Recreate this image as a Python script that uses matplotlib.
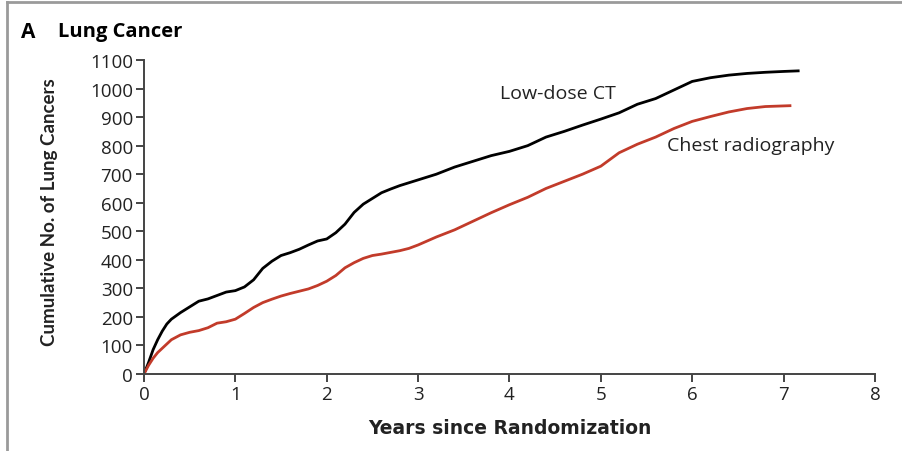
import matplotlib
matplotlib.use("Agg")
import matplotlib.pyplot as plt
from matplotlib.lines import Line2D

# Cumulative lung cancers by years since randomization
ct_years = [0, 0.05, 0.1, 0.15, 0.2, 0.25, 0.3, 0.4, 0.5, 0.6, 0.7, 0.8, 0.9, 1.0,
            1.1, 1.2, 1.3, 1.4, 1.5, 1.6, 1.7, 1.8, 1.9, 2.0, 2.1, 2.2, 2.3, 2.4,
            2.5, 2.6, 2.7, 2.8, 2.9, 3.0, 3.2, 3.4, 3.6, 3.8, 4.0, 4.2, 4.4, 4.6,
            4.8, 5.0, 5.2, 5.4, 5.6, 5.8, 6.0, 6.2, 6.4, 6.6, 6.8, 7.0, 7.16]
ct_counts = [0, 40, 85, 120, 150, 175, 192, 215, 235, 255, 263, 275, 287, 292,
             305, 330, 370, 395, 415, 425, 437, 452, 466, 473, 495, 525, 566, 595,
             615, 635, 648, 660, 670, 680, 700, 725, 745, 765, 780, 800, 830, 850,
             872, 893, 915, 945, 965, 995, 1025, 1038, 1047, 1053, 1057, 1060, 1062]

xr_years = [0, 0.05, 0.1, 0.15, 0.2, 0.3, 0.4, 0.5, 0.6, 0.7, 0.8, 0.9, 1.0,
            1.1, 1.2, 1.3, 1.4, 1.5, 1.6, 1.7, 1.8, 1.9, 2.0, 2.1, 2.2, 2.3, 2.4,
            2.5, 2.6, 2.7, 2.8, 2.9, 3.0, 3.2, 3.4, 3.6, 3.8, 4.0, 4.2, 4.4, 4.6,
            4.8, 5.0, 5.2, 5.4, 5.6, 5.8, 6.0, 6.2, 6.4, 6.6, 6.8, 7.07]
xr_counts = [0, 30, 55, 75, 90, 120, 137, 146, 152, 162, 178, 183, 192,
             212, 233, 250, 262, 273, 282, 290, 298, 310, 325, 345, 372, 390, 405,
             415, 420, 426, 432, 440, 452, 480, 505, 535, 565, 593, 619, 650, 675,
             700, 728, 775, 805, 830, 860, 885, 902, 918, 930, 937, 940]

x_ticks = [0, 1, 2, 3, 4, 5, 6, 7, 8]
y_ticks = [0, 100, 200, 300, 400, 500, 600, 700, 800, 900, 1000, 1100]

TEXT = "#222222"
AXIS = "#444444"

fig = plt.figure(figsize=(9.02, 4.52), dpi=100)
ax = fig.add_axes([0.1596, 0.1704, 0.8104, 0.6946])

ax.plot(ct_years, ct_counts, color="black", lw=2.0, solid_joinstyle="round")
ax.plot(xr_years, xr_counts, color="#c23b2a", lw=2.0, solid_joinstyle="round")

ax.set_xlim(0, 8)
ax.set_ylim(0, 1100)
ax.set_xticks(x_ticks)
ax.set_yticks(y_ticks)
for s in ("top", "right"):
    ax.spines[s].set_visible(False)
for s in ("left", "bottom"):
    ax.spines[s].set_color(AXIS)
    ax.spines[s].set_linewidth(1.4)
ax.tick_params(direction="out", length=6, width=1.4, color=AXIS,
               labelsize=13.5, labelcolor=TEXT, pad=2)
for lab in ax.get_xticklabels() + ax.get_yticklabels():
    lab.set_fontfamily("Open Sans")

ax.set_xlabel("Years since Randomization", fontsize=13.5, fontweight="bold",
              family="DejaVu Sans", color=TEXT, va="top")
ax.xaxis.set_label_coords(0.5, -0.14)
ax.set_ylabel("Cumulative No. of Lung Cancers", fontsize=13.5, fontweight="bold",
              family="Lato", color=TEXT)
ax.yaxis.set_label_coords(-0.117, 0.52)

ax.text(3.9, 984, "Low-dose CT", fontsize=14, family="Open Sans",
        color=TEXT, va="center", ha="left")
ax.text(5.72, 802, "Chest radiography", fontsize=14, family="Open Sans",
        color=TEXT, va="center", ha="left")

fig.text(21 / 902, 1 - 32 / 452, "A", fontsize=15, fontweight="bold",
         family="Open Sans", color="black", va="center", ha="left")
fig.text(58 / 902, 1 - 32 / 452, "Lung Cancer", fontsize=14.5, fontweight="bold",
         family="Open Sans", color="black", va="center", ha="left")

# panel frame along the top and left edges
fig.add_artist(Line2D([7 / 902, 1.0], [1 - 3 / 452, 1 - 3 / 452],
                      transform=fig.transFigure, color="#9a9a9a", lw=2))
fig.add_artist(Line2D([7 / 902, 7 / 902], [0.0, 1 - 3 / 452],
                      transform=fig.transFigure, color="#9a9a9a", lw=2))

fig.savefig("out.png", dpi=100)
